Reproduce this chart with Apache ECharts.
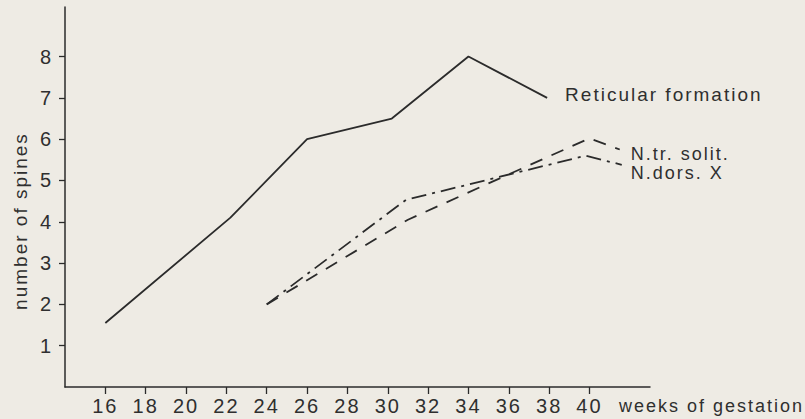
<!DOCTYPE html>
<html>
<head>
<meta charset="utf-8">
<script src="https://cdn.jsdelivr.net/npm/echarts@6/dist/echarts.min.js"></script>
<style>
  html, body { margin: 0; padding: 0; background: #eeebe4; }
  #chart { width: 805px; height: 419px; }
  /* stencil-style lettering: wide tracking */
  #chart text { letter-spacing: 2px; }
</style>
</head>
<body>
<div id="chart"></div>
<script>
// tick positions
const weekTicks = [16, 18, 20, 22, 24, 26, 28, 30, 32, 34, 36, 38, 40];
const spineTicks = [1, 2, 3, 4, 5, 6, 7, 8];

// Reticular formation
const reticularWeeks  = [16, 22.2, 26, 30.2, 34, 37.9];
const reticularSpines = [1.55, 4.1, 6.0, 6.5, 8.0, 7.0];

// N. tractus solitarii
const solitWeeks  = [24, 31, 36, 40, 41.5];
const solitSpines = [2.0, 4.05, 5.15, 6.02, 5.75];

// N. dorsalis X
const dorsWeeks  = [24, 30.9, 39.8, 41.6];
const dorsSpines = [2.0, 4.53, 5.6, 5.38];

const seriesNames = ['Reticular formation', 'N.tr. solit.', 'N.dors. X'];

const ink = '#2b2b2b';
const textColor = '#2f2f2f';
const tickFont = "'Liberation Sans', sans-serif";
const nameFont = "'Liberation Sans', sans-serif";

const pairs = (xs, ys) => xs.map((x, i) => [x, ys[i]]);

const chart = echarts.init(document.getElementById('chart'), null, { renderer: 'svg' });

function lineSeries(name, data, dash, labelSize, labelDistance, labelOffset) {
  return {
    name: name,
    type: 'line',
    data: data,
    showSymbol: false,
    symbol: 'none',
    silent: true,
    lineStyle: { color: ink, width: 1.8, type: dash, cap: 'butt' },
    endLabel: {
      show: true,
      formatter: '{a}',
      distance: labelDistance,
      offset: labelOffset,
      color: textColor,
      fontSize: labelSize,
      lineHeight: labelSize,
      fontFamily: nameFont
    }
  };
}

chart.setOption({
  animation: false,
  backgroundColor: '#eeebe4',
  grid: { left: 65, right: 155, top: 7, bottom: 32, containLabel: false, outerBoundsMode: 'none' },
  xAxis: {
    type: 'value',
    min: 14,
    max: 43,
    splitLine: { show: false },
    axisLine: { show: true, onZero: false, lineStyle: { color: ink, width: 1.5 } },
    axisTick: { show: true, customValues: weekTicks, length: 7, lineStyle: { color: ink, width: 1.3 } },
    axisLabel: { customValues: weekTicks, margin: 9, fontSize: 20, fontFamily: tickFont, color: textColor },
    name: 'weeks of gestation',
    nameLocation: 'end',
    nameGap: -31,
    nameMoveOverlap: false,
    nameTextStyle: {
      fontSize: 18, fontFamily: nameFont, color: textColor,
      align: 'left', verticalAlign: 'top', lineHeight: 38
    }
  },
  yAxis: {
    type: 'value',
    min: 0,
    max: 9.2,
    splitLine: { show: false },
    axisLine: { show: true, onZero: false, lineStyle: { color: ink, width: 1.5 } },
    axisTick: { show: true, customValues: spineTicks, length: 6, lineStyle: { color: ink, width: 1.3 } },
    axisLabel: { customValues: spineTicks, margin: 12, fontSize: 20, fontFamily: tickFont, color: textColor },
    name: 'number of spines',
    nameLocation: 'middle',
    nameRotate: 90,
    nameGap: 35,
    nameMoveOverlap: false,
    nameTextStyle: { fontSize: 19, fontFamily: nameFont, color: textColor, padding: [0, 48, 0, 0] }
  },
  series: [
    lineSeries(seriesNames[0], pairs(reticularWeeks, reticularSpines), 'solid', 19, 18, [0, -3]),
    lineSeries(seriesNames[1], pairs(solitWeeks, solitSpines), [13, 10], 18, 11, [0, 4]),
    lineSeries(seriesNames[2], pairs(dorsWeeks, dorsSpines), [15, 6, 3, 6], 18, 9, [0, 8])
  ]
});
</script>
</body>
</html>
